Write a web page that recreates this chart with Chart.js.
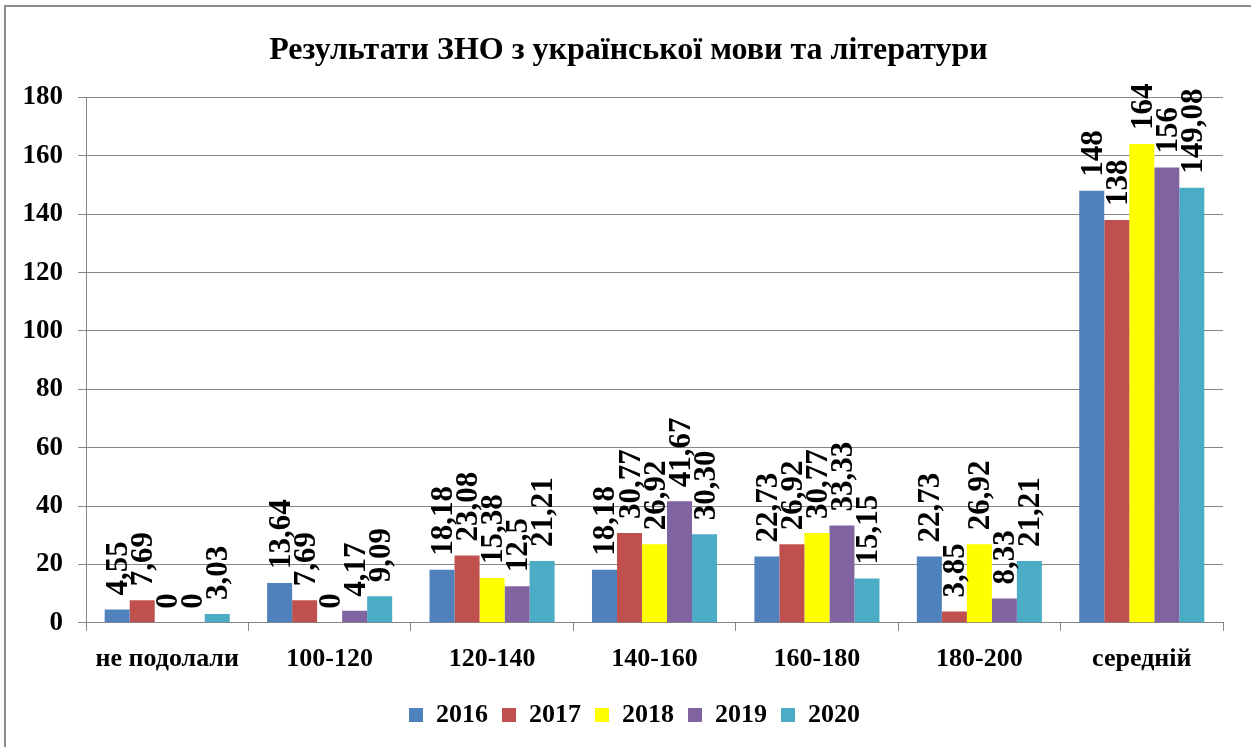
<!DOCTYPE html>
<html><head><meta charset="utf-8">
<script src="https://cdn.jsdelivr.net/npm/chart.js@4.4.1/dist/chart.umd.min.js"></script>
<style>
html,body{margin:0;padding:0;background:#fff;}
#wrap{position:absolute;left:0;top:0;width:1251px;height:747px;}
#frame{position:absolute;left:4px;top:5px;width:1247px;height:742px;border:2px solid #8c8c8c;border-right:none;border-bottom:none;box-sizing:border-box;}
canvas{position:absolute;left:0;top:0;}
</style></head>
<body><div id="wrap"><div id="frame"></div><canvas id="c" width="1251" height="747"></canvas></div>
<script>
const categories = ["не подолали","100-120","120-140","140-160","160-180","180-200","середній"];
const years = ["2016","2017","2018","2019","2020"];
const v2016 = [4.55,13.64,18.18,18.18,22.73,22.73,148];
const v2017 = [7.69,7.69,23.08,30.77,26.92,3.85,138];
const v2018 = [0,0,15.38,26.92,30.77,26.92,164];
const v2019 = [0,4.17,12.5,41.67,33.33,8.33,156];
const v2020 = [3.03,9.09,21.21,30.30,15.15,21.21,149.08];
const t2016 = ["4,55","13,64","18,18","18,18","22,73","22,73","148"];
const t2017 = ["7,69","7,69","23,08","30,77","26,92","3,85","138"];
const t2018 = ["0","0","15,38","26,92","30,77","26,92","164"];
const t2019 = ["0","4,17","12,5","41,67","33,33","8,33","156"];
const t2020 = ["3,03","9,09","21,21","30,30","15,15","21,21","149,08"];
const yTicks = [0,20,40,60,80,100,120,140,160,180];
const colors = ["#4f81bd","#c0504d","#ffff00","#8064a2","#4bacc6"];
const values = [v2016,v2017,v2018,v2019,v2020];
const texts = [t2016,t2017,t2018,t2019,t2020];

const serif = "'Liberation Serif','Times New Roman',serif";

const labelPlugin = {
  id:'vlabels',
  afterDatasetsDraw(chart){
    const ctx = chart.ctx;
    chart.data.datasets.forEach((ds,i)=>{
      const meta = chart.getDatasetMeta(i);
      meta.data.forEach((bar,j)=>{
        const txt = texts[i][j];
        if(!txt) return;
        ctx.save();
        ctx.translate(bar.x + 1, bar.y - 14);
        ctx.rotate(-Math.PI/2);
        ctx.font = "bold 31px " + serif;
        ctx.fillStyle = "#000";
        ctx.textAlign = "left";
        ctx.textBaseline = "middle";
        ctx.fillText(txt, 0, 1);
        ctx.restore();
      });
    });
  }
};

// nudge the title and legend boxes so they sit centred like the original
const centerPlugin = {
  id:'centerShift',
  afterLayout(chart){
    const t = chart.titleBlock;
    if(t){ t.left += 17; t.right += 17; }
    const l = chart.legend;
    if(l){ l.left += 23; l.right += 23; }
  }
};

new Chart(document.getElementById('c'),{
  type:'bar',
  data:{
    labels:categories,
    datasets: years.map((y,i)=>({label:y,data:values[i],backgroundColor:colors[i],borderWidth:0,categoryPercentage:0.77,barPercentage:1}))
  },
  options:{
    responsive:false,
    animation:false,
    layout:{padding:{left:0,right:28,top:0,bottom:9}},
    plugins:{
      title:{display:true,text:"Результати ЗНО з української мови та літератури",color:"#000",font:{family:serif,size:32,weight:'bold'},padding:{top:32,bottom:27}},
      legend:{position:'bottom',labels:{color:'#000',font:{family:serif,size:26,weight:'bold'},boxWidth:14,boxHeight:14,padding:14}},
      tooltip:{enabled:false}
    },
    scales:{
      x:{
        offset:true,
        grid:{display:true,drawOnChartArea:false,offset:true,color:'#868686',tickLength:8},
        border:{color:'#868686',width:1},
        ticks:{color:'#000',font:{family:serif,size:26,weight:'bold'},padding:13,maxRotation:0}
      },
      y:{
        min:0,max:180,
        afterFit(axis){axis.width = 86;},
        afterBuildTicks(axis){axis.ticks = yTicks.map(v=>({value:v}));},
        grid:{color:'#868686',tickLength:8},
        border:{color:'#868686',width:1},
        ticks:{color:'#000',font:{family:serif,size:27,weight:'bold'},padding:15}
      }
    }
  },
  plugins:[labelPlugin, centerPlugin]
});
</script></body></html>
